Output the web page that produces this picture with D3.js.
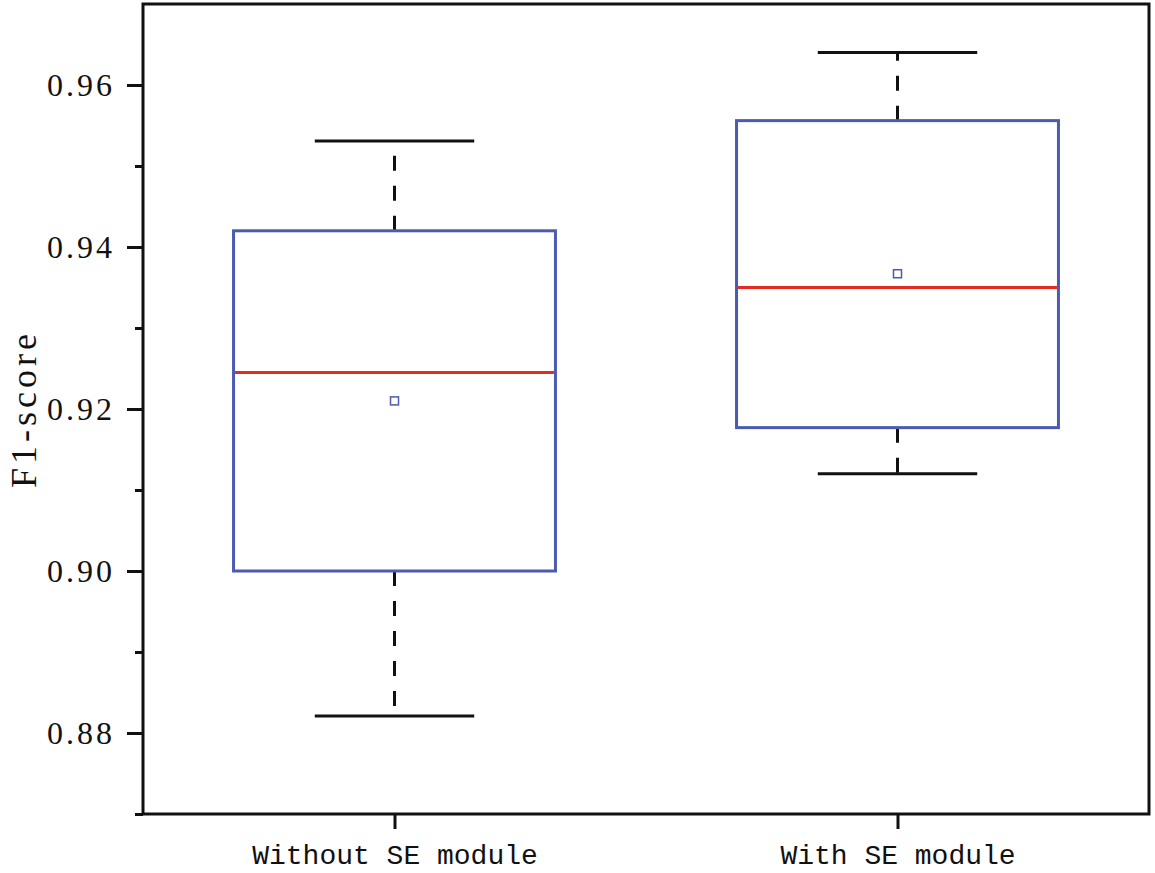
<!DOCTYPE html>
<html>
<head>
<meta charset="utf-8">
<script src="https://cdn.jsdelivr.net/npm/d3@7"></script>
<style>
  body { margin: 0; background: #fff; }
</style>
</head>
<body>
<div id="chart"></div>
<script>
// Box plot data
var categories = ["Without SE module", "With SE module"];
var whiskerLow  = [0.8821, 0.9120];
var boxLow      = [0.9000, 0.9177];
var medians     = [0.9245, 0.9350];
var means       = [0.9210, 0.9367];
var boxHigh     = [0.9420, 0.9556];
var whiskerHigh = [0.9531, 0.9640];
var yTicks = [0.88, 0.90, 0.92, 0.94, 0.96];
var yMinorTicks = [0.87, 0.89, 0.91, 0.93, 0.95];

var width = 1155, height = 873;
var margin = {top: 4, right: 6, bottom: 59, left: 143};

var svg = d3.select("#chart").append("svg")
    .attr("width", width)
    .attr("height", height);

var x = d3.scalePoint()
    .domain(categories)
    .range([margin.left, width - margin.right])
    .padding(0.5);

var y = d3.scaleLinear()
    .domain([0.87, 0.97])
    .range([height - margin.bottom, margin.top]);

var boxW = x.step() * 0.64;
var capW = x.step() * 0.317;

var data = categories.map(function(c, i) {
    return {name: c, wl: whiskerLow[i], q1: boxLow[i], med: medians[i],
            mean: means[i], q3: boxHigh[i], wh: whiskerHigh[i]};
});

// frame
svg.append("rect")
    .attr("x", margin.left)
    .attr("y", margin.top)
    .attr("width", width - margin.left - margin.right)
    .attr("height", height - margin.top - margin.bottom)
    .attr("fill", "none")
    .attr("stroke", "#111")
    .attr("stroke-width", 3);

// minor ticks
svg.append("g")
    .attr("transform", "translate(" + margin.left + ",0)")
    .call(d3.axisLeft(y).tickValues(yMinorTicks).tickSize(8).tickFormat(""))
    .call(function(g) { g.select(".domain").remove(); })
    .selectAll("line").attr("stroke", "#111").attr("stroke-width", 3);

// y axis
var yAxis = svg.append("g")
    .attr("transform", "translate(" + margin.left + ",0)")
    .call(d3.axisLeft(y).tickValues(yTicks).tickSize(16).tickPadding(12)
        .tickFormat(d3.format(".2f")));
yAxis.select(".domain").remove();
yAxis.selectAll("line").attr("stroke", "#111").attr("stroke-width", 3);
yAxis.selectAll("text")
    .attr("fill", "#111")
    .style("font-family", "'Liberation Serif', 'DejaVu Serif', serif")
    .style("font-size", "32px")
    .style("letter-spacing", "3px")
    .attr("dy", "0.33em");

// x axis
var xAxis = svg.append("g")
    .attr("transform", "translate(0," + (height - margin.bottom) + ")")
    .call(d3.axisBottom(x).tickSize(15).tickPadding(15));
xAxis.select(".domain").remove();
xAxis.selectAll("line").attr("stroke", "#111").attr("stroke-width", 3);
xAxis.selectAll("text")
    .attr("fill", "#111")
    .style("font-family", "'Liberation Mono', 'DejaVu Sans Mono', monospace")
    .style("font-size", "28px");

// y label
svg.append("text")
    .attr("transform", "translate(36," + ((margin.top + height - margin.bottom) / 2) + ") rotate(-90)")
    .attr("text-anchor", "middle")
    .style("font-family", "'Liberation Serif', serif")
    .style("font-size", "36px")
    .style("letter-spacing", "4px")
    .attr("fill", "#111")
    .text("F1-score");

var g = svg.selectAll(".box").data(data).enter().append("g").attr("class", "box");

// dashed whiskers
g.append("line")
    .attr("x1", function(d) { return x(d.name); })
    .attr("x2", function(d) { return x(d.name); })
    .attr("y1", function(d) { return y(d.q3); })
    .attr("y2", function(d) { return y(d.wh); })
    .attr("stroke", "#111").attr("stroke-width", 3)
    .attr("stroke-dasharray", "15,15");
g.append("line")
    .attr("x1", function(d) { return x(d.name); })
    .attr("x2", function(d) { return x(d.name); })
    .attr("y1", function(d) { return y(d.q1); })
    .attr("y2", function(d) { return y(d.wl); })
    .attr("stroke", "#111").attr("stroke-width", 3)
    .attr("stroke-dasharray", "15,15");

// caps
["wh", "wl"].forEach(function(k) {
    g.append("line")
        .attr("x1", function(d) { return x(d.name) - capW / 2; })
        .attr("x2", function(d) { return x(d.name) + capW / 2; })
        .attr("y1", function(d) { return y(d[k]); })
        .attr("y2", function(d) { return y(d[k]); })
        .attr("stroke", "#111").attr("stroke-width", 3);
});

// box
g.append("rect")
    .attr("x", function(d) { return x(d.name) - boxW / 2; })
    .attr("y", function(d) { return y(d.q3); })
    .attr("width", boxW)
    .attr("height", function(d) { return y(d.q1) - y(d.q3); })
    .attr("fill", "none")
    .attr("stroke", "#4a5bb0")
    .attr("stroke-width", 3);

// median
g.append("line")
    .attr("x1", function(d) { return x(d.name) - boxW / 2 + 1.5; })
    .attr("x2", function(d) { return x(d.name) + boxW / 2 - 1.5; })
    .attr("y1", function(d) { return y(d.med); })
    .attr("y2", function(d) { return y(d.med); })
    .attr("stroke", "#e52a22").attr("stroke-width", 3);

// mean marker
g.append("rect")
    .attr("x", function(d) { return x(d.name) - 4; })
    .attr("y", function(d) { return y(d.mean) - 4; })
    .attr("width", 8).attr("height", 8)
    .attr("fill", "none")
    .attr("stroke", "#4a5bb0")
    .attr("stroke-width", 1.5);
</script>
</body>
</html>
